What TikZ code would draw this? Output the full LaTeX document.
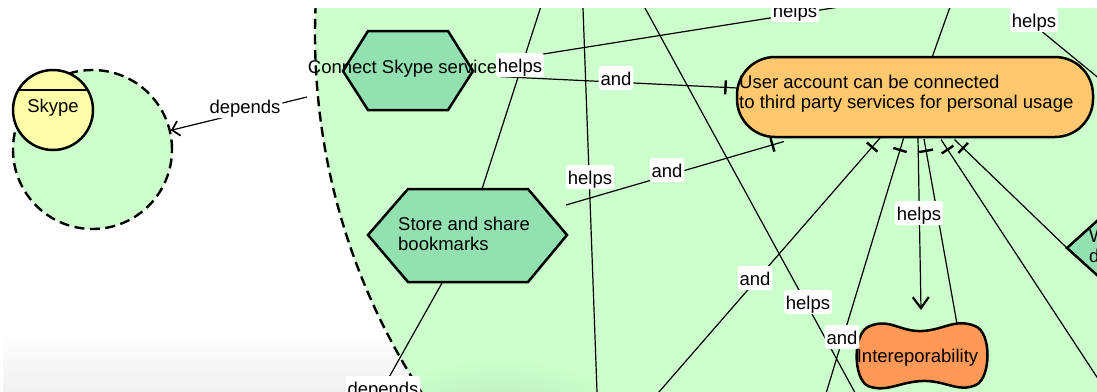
\documentclass[tikz,border=0pt]{standalone}
\usepackage{fontspec}
\setmainfont{Liberation Sans}
\usetikzlibrary{arrows.meta,decorations.markings}
\definecolor{actorbg}{HTML}{CCFFCC}
\definecolor{taskfill}{HTML}{93E0B0}
\definecolor{goalfill}{HTML}{FFC86E}
\definecolor{softfill}{HTML}{FF9955}
\definecolor{rolefill}{HTML}{FFFFAA}
\definecolor{shadegrey}{HTML}{F1F1F1}
\definecolor{shadegreen}{HTML}{C0EEC0}
\tikzset{
  txt/.style={font=\fontsize{18.5pt}{20pt}\selectfont, inner sep=0pt, text=black},
  lbl/.style={txt, fill=white, rounded corners=3pt, inner xsep=2pt, inner ysep=3pt, text height=16pt, text depth=2pt},
  bnd/.style={dash pattern=on 10pt off 5.5pt, line width=2.4pt},
  link/.style={line width=1.2pt, black},
  andlink/.style={link, postaction={decorate, decoration={markings,
      mark=at position -12pt with {\draw[line width=2.4pt] (0,-7pt) -- (0,7pt);}}}},
  deplink/.style={link, -{Straight Barb[length=7pt,width=15pt,line width=1.7pt]}},
  helpsarrow/.style={link, -{Straight Barb[length=11pt,width=16pt,line width=2.2pt]}},
  tasksh/.style={draw, line width=2.5pt, fill=taskfill, line join=miter},
  goalsh/.style={draw, line width=2.5pt, fill=goalfill, rounded corners=38pt, minimum width=356pt, minimum height=80pt, inner sep=0pt},
  softsh/.style={draw, line width=2.5pt, fill=softfill},
}
\begin{document}
\begin{tikzpicture}[x=1pt,y=-1pt]
\useasboundingbox (0,0) rectangle (1097,391);
\begin{scope}
\clip (0,8) rectangle (1097,391);
% faint screen shadow at the bottom left
\shade[top color=white, bottom color=shadegrey] (3,330) rectangle (440,391);
% actor boundaries
\fill[actorbg] (971,34) circle[radius=656pt];
\begin{scope}
\clip (971,34) circle[radius=656pt];
\shade[inner color=shadegreen, outer color=actorbg] (500,400) ellipse[x radius=110pt, y radius=40pt];
\end{scope}
\draw[bnd] (971,34) circle[radius=656pt];
\node[circle, draw, bnd, fill=actorbg, minimum size=159pt, inner sep=0pt] (skypeactor) at (92.5,149.5) {};

% coordinates (free ends and attachment points)
\coordinate (t1) at (543,0);
\coordinate (storeN) at (482,189);
\coordinate (t2) at (582.7,0);
\coordinate (b2) at (597.3,400);
\coordinate (t3) at (640.6,0);
\coordinate (b3) at (859,400);
\coordinate (s4) at (510,59.3);
\coordinate (t4) at (880,0.5);
\coordinate (s5) at (500,76.6);
\coordinate (uaW) at (737.5,88);
\coordinate (s6) at (566,205);
\coordinate (uaSW) at (784,141.5);
\coordinate (b9) at (652,400);
\coordinate (ua9) at (880,138);
\coordinate (b10) at (824,400);
\coordinate (ua10) at (903.5,138.5);
\coordinate (intNE) at (957,324);
\coordinate (ua8) at (924,139);
\coordinate (ua7) at (918,138);
\coordinate (intN) at (921,310);
\coordinate (b11) at (1112,400);
\coordinate (ua11) at (941,139.5);
\coordinate (wW) at (1067,248);
\coordinate (ua12) at (954.5,139.6);
\coordinate (t13) at (952.5,0);
\coordinate (uaN) at (932,57.5);
\coordinate (h14) at (1034,25);
\coordinate (r14) at (1100,79.2);
\coordinate (dep1s) at (307,97);
\coordinate (storeS) at (442,283);
\coordinate (dep2e) at (383,388);

% connectors
\draw[link] (t1) -- (storeN);
\draw[link] (t2) -- (b2);
\draw[link] (t3) -- (b3);
\draw[link] (s4) -- (t4);
\draw[andlink] (s5) -- (uaW);
\draw[andlink] (s6) -- (uaSW);
\draw[andlink] (b9) -- (ua9);
\draw[andlink] (b10) -- (ua10);
\draw[andlink] (intNE) -- (ua8);
\draw[helpsarrow] (ua7) -- (intN);
\draw[andlink] (b11) -- (ua11);
\draw[andlink] (wW) -- (ua12);
\draw[link] (t13) -- (uaN);
\draw[link] (h14) -- (r14);
\draw[deplink] (dep1s) -- (skypeactor);
\draw[link] (storeS) -- (dep2e);

% Skype role
\node[circle, draw, line width=2.5pt, fill=rolefill, minimum size=80pt, inner sep=0pt] (skype) at (53,110) {};
\draw[line width=2.3pt] (18.4,90) -- (87.6,90);
\node[txt] (skypetxt) at (53,108) {Skype};

% tasks
\draw[tasksh] (368,31) -- (448,31) -- (473,71) -- (448,110) -- (368,110) -- (343,71) -- cycle;
\node[txt] (connect) at (402.5,69) {Connect Skype service};
\draw[tasksh] (408,189) -- (528,189) -- (567,235) -- (528,282) -- (408,282) -- (368,235) -- cycle;
\node[txt, align=left, anchor=west] (store) at (398,234) {Store and share\\bookmarks};
\draw[tasksh] (1067,248) -- (1108,211) -- (1200,211) -- (1200,285) -- (1108,285) -- cycle;
\node[txt, align=left, anchor=west] (wtask) at (1089,246) {W\\d};

% goal
\node[goalsh] (ua) at (915,97) {};
\node[txt, align=left, anchor=west] (uatxt) at (739,94) {User account can be connected\\to third party services for personal usage};

% softgoal
\draw[softsh] (870,326) .. controls (890,318) and (900,332) .. (922,331)
  .. controls (944,330) and (955,318) .. (975,326)
  .. controls (992,332) and (991,378) .. (976,385)
  .. controls (958,393) and (945,380) .. (922,381)
  .. controls (899,382) and (886,393) .. (868,386)
  .. controls (853,379) and (852,332) .. (870,326) -- cycle;
\node[txt] (intero) at (917.5,358) {Intereporability};

% labels
\node[lbl] (ldep1) at (245,106) {depends};
\node[lbl] (lhcs) at (520,65) {helps};
\node[lbl] (land1) at (616,78) {and};
\node[lbl] (lhtop) at (795,10) {helps};
\node[lbl] (lhright) at (1034,20) {helps};
\node[lbl] (lh2) at (590,177) {helps};
\node[lbl] (land2) at (667,170) {and};
\node[lbl] (lhv) at (919,213) {helps};
\node[lbl] (land3) at (755,278) {and};
\node[lbl] (lh3) at (808,302) {helps};
\node[lbl] (land4) at (842,337) {and};
\node[lbl] (ldep2) at (383,388) {depends};
\end{scope}
\end{tikzpicture}
\end{document}
